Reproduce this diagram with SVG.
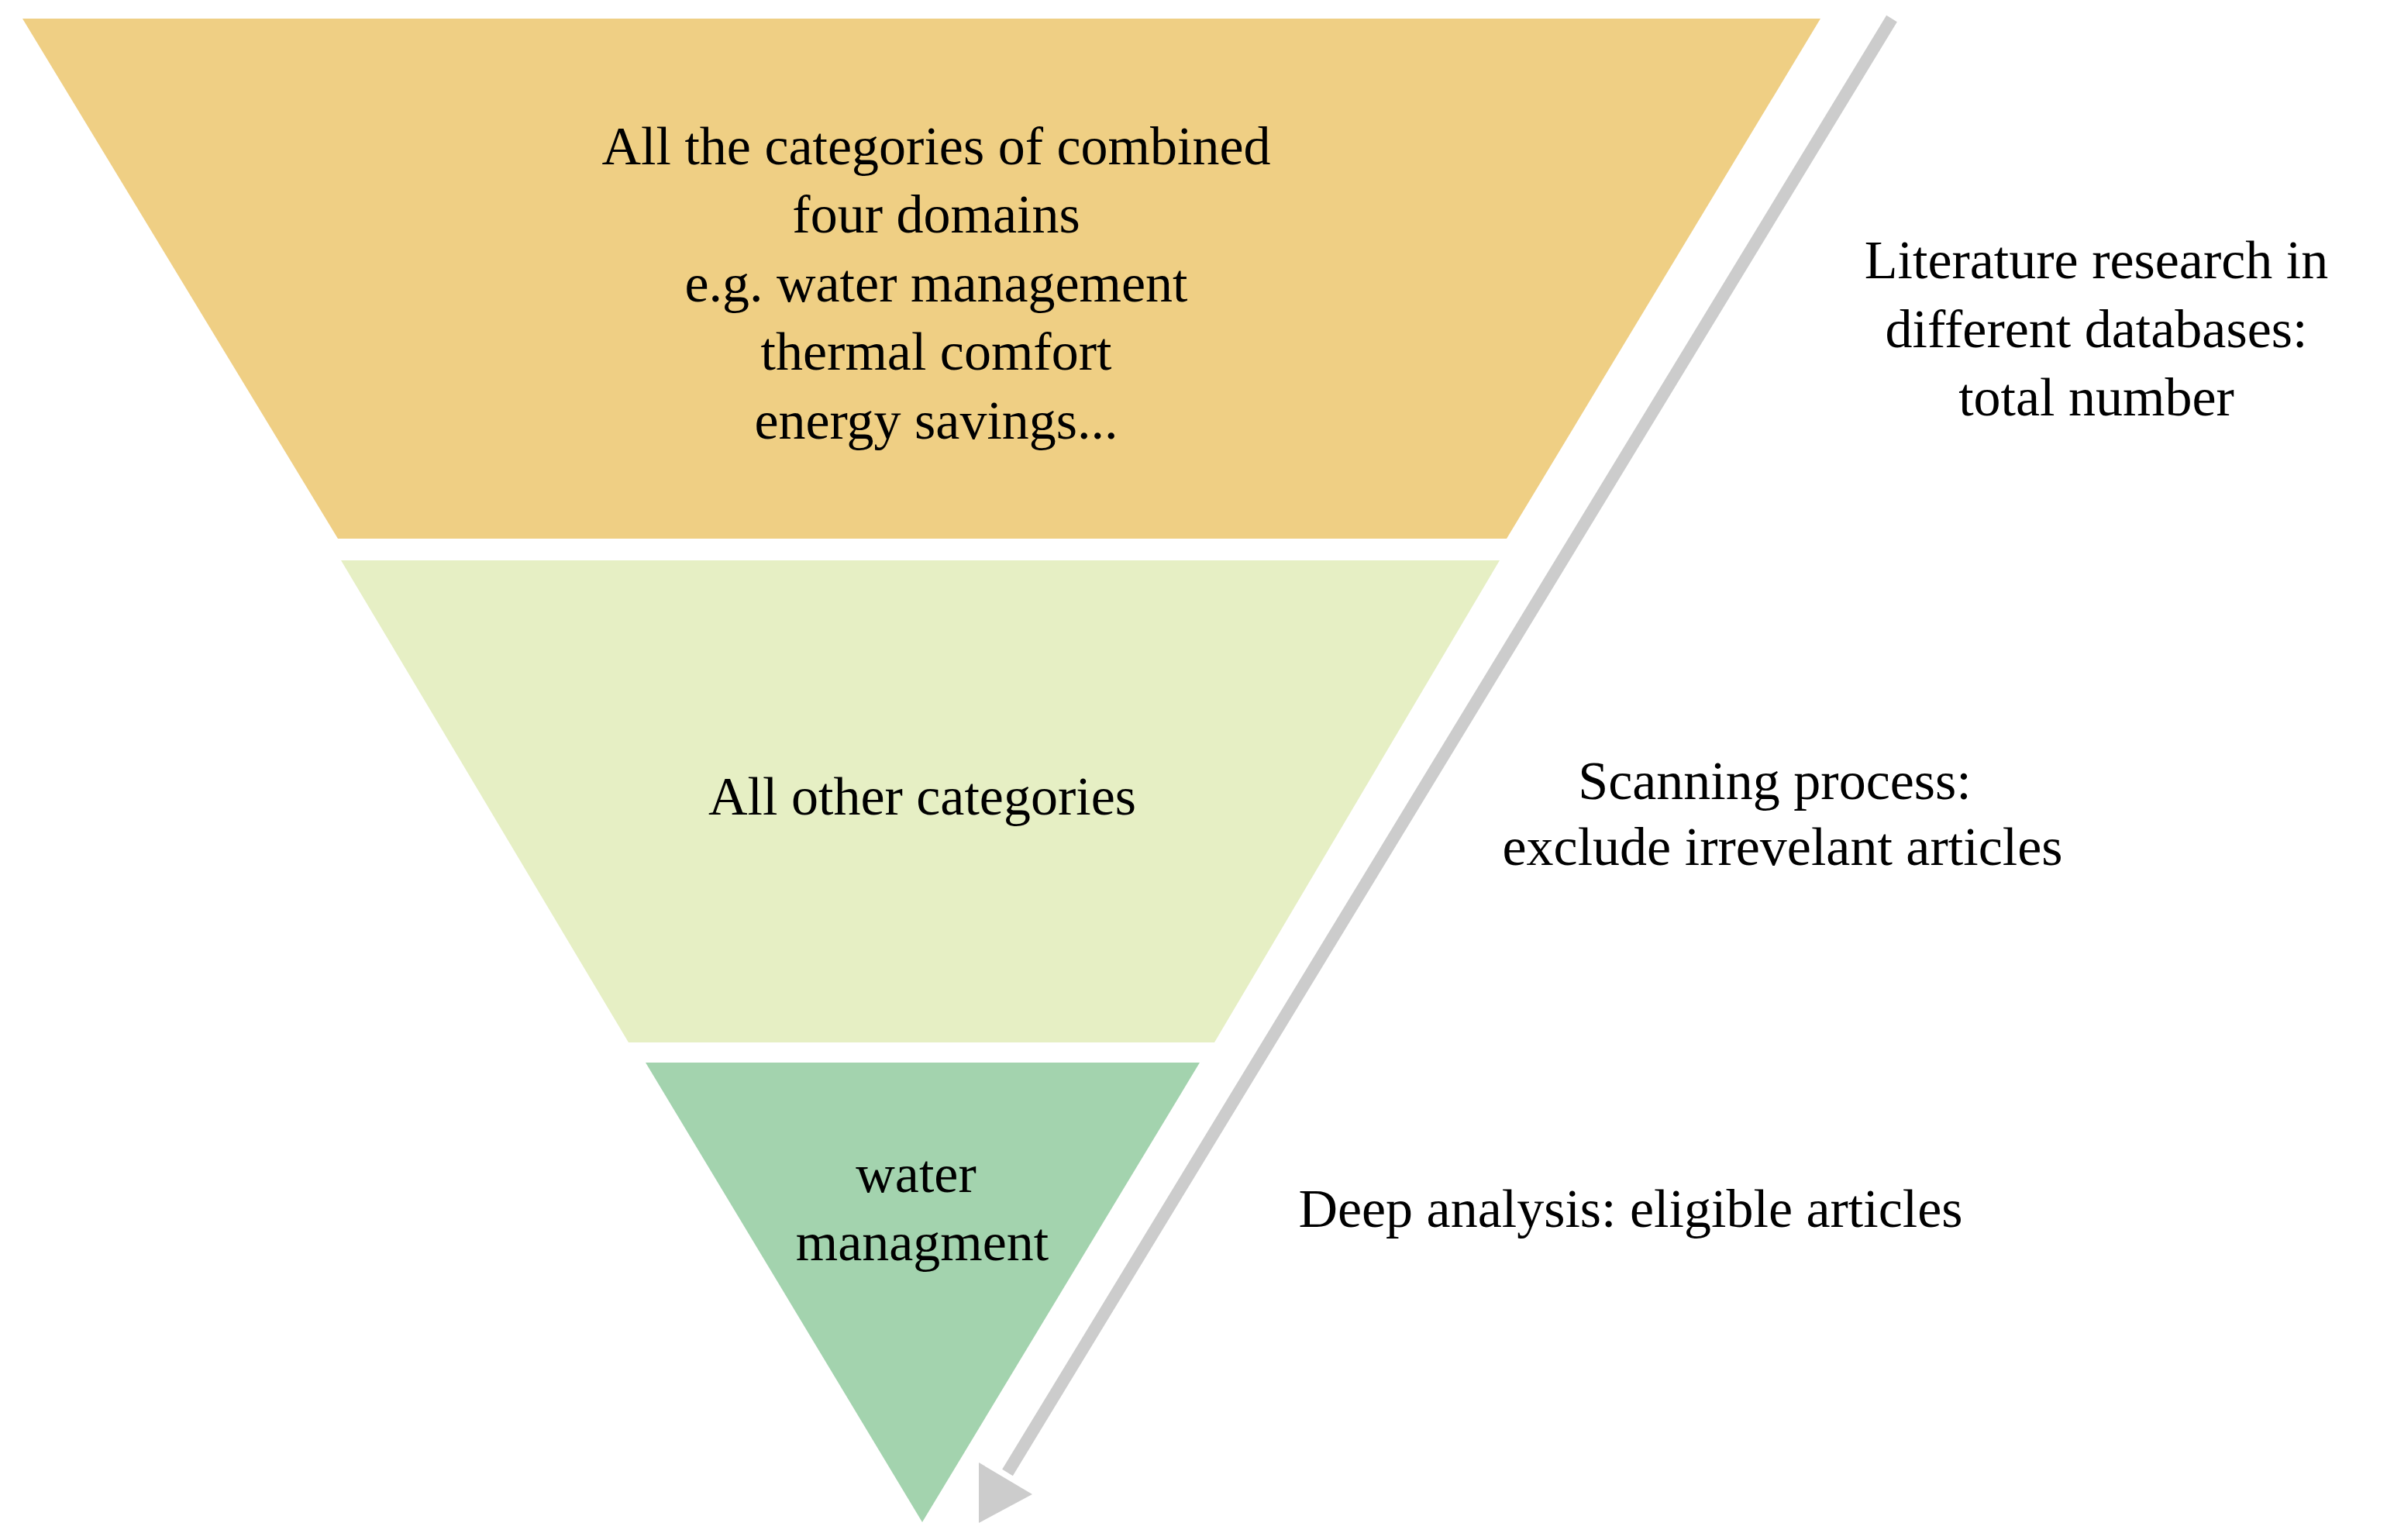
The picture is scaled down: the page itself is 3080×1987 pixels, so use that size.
<svg xmlns="http://www.w3.org/2000/svg" width="3080" height="1987" viewBox="0 0 3080 1987">
<style>
text{font-family:"Liberation Serif","DejaVu Serif",serif;font-size:70px;fill:#000;text-anchor:middle}
</style>
<rect width="3080" height="1987" fill="#fff"/>
<g id="top"><polygon points="29,24 2349,24 1944,695 436,695" fill="#efcf84"/>
<text x="1208" y="212">All the categories of combined</text>
<text x="1208" y="300">four domains</text>
<text x="1208" y="389">e.g. water management</text>
<text x="1208" y="477">thermal comfort</text>
<text x="1208" y="566">energy savings...</text></g>
<g id="middle"><polygon points="440,723 1935,723 1567,1345 811,1345" fill="#e6efc4"/>
<text x="1190" y="1051">All other categories</text></g>
<g id="bottom"><polygon points="833,1371 1548,1371 1190,1964" fill="#a3d3ae"/>
<text x="1182" y="1538">water</text>
<text x="1190" y="1626">managment</text></g>
<g id="connectors">
<line x1="2441" y1="24" x2="1300" y2="1900" stroke="#cccccc" stroke-width="16"/>
<polygon points="1263,1965 1263,1887 1332,1928" fill="#cccccc"/>
</g>
<g id="labels">
<text x="2705" y="359">Literature research in</text>
<text x="2705" y="448">different databases:</text>
<text x="2705" y="536">total number</text>
<text x="2290" y="1031">Scanning process:</text>
<text x="2300" y="1116">exclude irrevelant articles</text>
<text x="2104" y="1583">Deep analysis: eligible articles</text>
</g>
</svg>
